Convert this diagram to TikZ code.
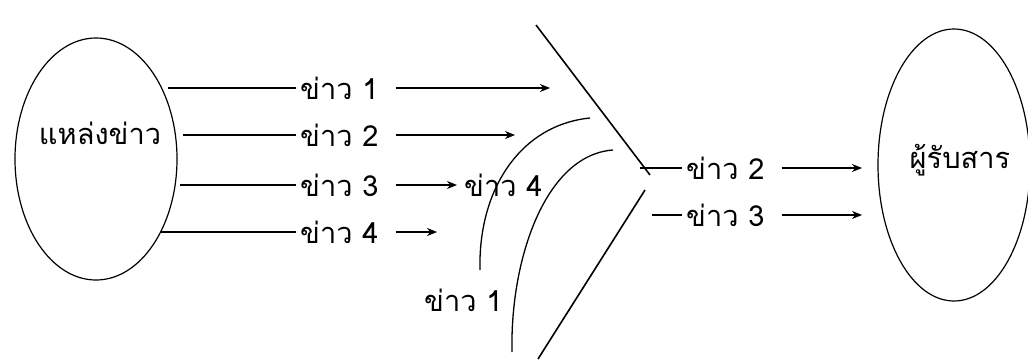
\documentclass[tikz,border=0pt]{standalone}
\usepackage{fontspec}
\newfontfamily\thaifont[Script=Thai]{Loma}
\usetikzlibrary{shapes.geometric,arrows.meta}
\tikzset{
  lab/.style={font=\thaifont\fontsize{29}{33}\selectfont, inner xsep=4pt, inner ysep=2pt, anchor=west},
  ring/.style={draw, ellipse, line width=1.2pt, inner sep=0pt},
  ln/.style={line width=1.1pt},
  arr/.style={line width=1.1pt, shorten <=13pt, -{Stealth[length=10pt,width=8pt]}},
  bar/.style={line width=1.6pt}
}
\begin{document}
\begin{tikzpicture}[x=1pt,y=-1pt]
\useasboundingbox (0,0) rectangle (1028,359);
% source
\node[ring, minimum width=162pt, minimum height=242pt] (src) at (96,159) {};
\node[lab, anchor=center] (srct) at (100,133) {แหล่งข่าว};
% rows
\coordinate (s1) at (168,88);
\coordinate (s2) at (183,135);
\coordinate (s3) at (180,185);
\coordinate (s4) at (160,232);
\node[lab] (m1) at (296,88) {ข่าว 1};
\node[lab] (m2) at (296,135) {ข่าว 2};
\node[lab] (m3) at (296,185) {ข่าว 3};
\node[lab] (m4) at (296,232) {ข่าว 4};
\coordinate (e1) at (550,88);
\coordinate (e2) at (515,135);
\coordinate (e3) at (457,185);
\coordinate (e4) at (437,232);
\draw[ln] (s1) -- (m1.west);
\draw[ln] (s2) -- (m2.west);
\draw[ln] (s3) -- (m3.west);
\draw[ln] (s4) -- (m4.west);
\draw[arr] (m1.east) -- (e1);
\draw[arr] (m2.east) -- (e2);
\draw[arr] (m3.east) -- (e3);
\draw[arr] (m4.east) -- (e4);
\node[lab] (k4) at (460,185) {ข่าว 4};
\node[lab] (k1) at (420,300) {ข่าว 1};
% filter
\coordinate (d1) at (536,25);
\coordinate (d2) at (650,175);
\coordinate (d3) at (645,190);
\coordinate (d4) at (538,359);
\draw[bar] (d1) -- (d2);
\draw[bar] (d3) -- (d4);
\coordinate (ca1) at (590,118);
\coordinate (ca2) at (480,270);
\coordinate (cb1) at (613,150);
\coordinate (cb2) at (512,352);
\draw[ln, line width=1.3pt] (ca1) .. controls (520,125) and (478,190) .. (ca2);
\draw[ln, line width=1.3pt] (cb1) .. controls (545,155) and (510,260) .. (cb2);
% right side
\coordinate (t2) at (640,168);
\coordinate (t3) at (652,215);
\node[lab] (r2) at (682,168) {ข่าว 2};
\node[lab] (r3) at (682,215) {ข่าว 3};
\node[ring, minimum width=152pt, minimum height=272pt] (dst) at (954,165) {};
\node[lab, anchor=center] (dstt) at (960,160) {ผู้รับสาร};
\coordinate (f2) at (862,168);
\coordinate (f3) at (862,215);
\draw[ln] (t2) -- (r2.west);
\draw[ln] (t3) -- (r3.west);
\draw[arr] (r2.east) -- (f2);
\draw[arr] (r3.east) -- (f3);
\end{tikzpicture}
\end{document}
